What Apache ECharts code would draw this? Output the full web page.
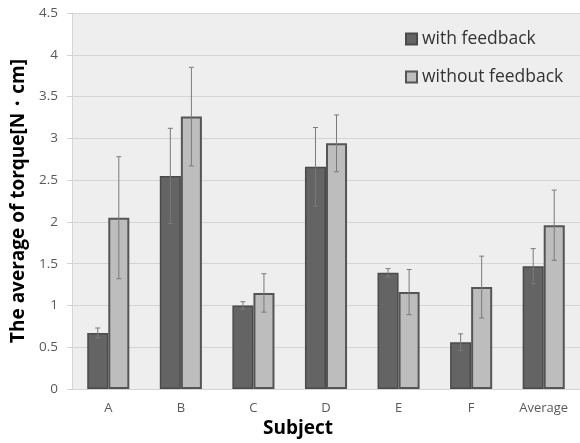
<!DOCTYPE html>
<html><head><meta charset="utf-8">
<script src="https://cdn.jsdelivr.net/npm/echarts@6/dist/echarts.min.js"></script>
<style>html,body{margin:0;padding:0;background:#fff}#c{width:580px;height:443px}</style>
</head><body><div id="c"></div>
<script>
const categories = ['A','B','C','D','E','F','Average'];
const withFeedback = [0.67, 2.55, 1.00, 2.66, 1.39, 0.56, 1.47];
const withFeedbackErr = [0.06, 0.57, 0.045, 0.47, 0.05, 0.10, 0.21];
const withoutFeedback = [2.05, 3.26, 1.15, 2.94, 1.16, 1.22, 1.96];
const withoutFeedbackErr = [0.73, 0.59, 0.23, 0.34, 0.27, 0.37, 0.42];
const yTicks = ['0','0.5','1','1.5','2','2.5','3','3.5','4','4.5'];

const GAP = 0.42;
function errSeries(vals, errs, side) {
  return {
    type: 'custom',
    silent: true,
    z: 10,
    data: vals.map((v, i) => [i, v, errs[i]]),
    renderItem: function (params, api) {
      const i = api.value(0), v = api.value(1), e = api.value(2);
      const band = api.size([1, 0])[0];
      const bw = band * (1 - GAP) / 2;
      const x = api.coord([i, 0])[0] + side * bw / 2;
      const yTop = api.coord([i, v + e])[1];
      const yBot = api.coord([i, v - e])[1];
      const cap = 2.5;
      const st = { stroke: '#7a7a7a', lineWidth: 1 };
      return {
        type: 'group',
        children: [
          { type: 'line', shape: { x1: x, y1: yTop, x2: x, y2: yBot }, style: st },
          { type: 'line', shape: { x1: x - cap, y1: yTop, x2: x + cap, y2: yTop }, style: st },
          { type: 'line', shape: { x1: x - cap, y1: yBot, x2: x + cap, y2: yBot }, style: st }
        ]
      };
    }
  };
}

const chart = echarts.init(document.getElementById('c'), null, { renderer: 'canvas' });
chart.setOption({
  animation: false,
  backgroundColor: '#ffffff',
  grid: { left: 72, right: -3, top: 13, bottom: 54, show: true, backgroundColor: '#eeeeee', borderWidth: 0 },
  legend: {
    orient: 'vertical',
    left: 400,
    top: 24,
    itemGap: 18,
    itemWidth: 11,
    itemHeight: 11,
    icon: 'rect',
    textStyle: { fontFamily: 'Open Sans', fontSize: 17.5, lineHeight: 20, color: '#333333' },
    data: ['with feedback', 'without feedback']
  },
  xAxis: {
    type: 'category',
    data: categories,
    axisLine: { show: false },
    axisTick: { show: false },
    axisLabel: { fontFamily: 'Open Sans', fontSize: 13, color: '#595959', margin: 13 },
    splitLine: { show: false }
  },
  yAxis: {
    type: 'value',
    min: 0, max: 4.5, interval: 0.5,
    axisLine: { show: true, lineStyle: { color: '#d4d4d4' } },
    axisTick: { show: true, length: 5, lineStyle: { color: '#d4d4d4' } },
    axisLabel: { fontFamily: 'Open Sans', fontSize: 13.5, color: '#595959', margin: 14,
      formatter: function (v) { return yTicks[Math.round(v / 0.5)]; } },
    splitLine: { lineStyle: { color: '#d4d4d4', width: 1 } },
    name: 'The average of torque[N・cm]',
    nameLocation: 'middle',
    nameGap: 44,
    nameTextStyle: { fontFamily: 'Open Sans', fontSize: 19, fontWeight: 'bold', color: '#000000' }
  },
  graphic: [{
    type: 'text',
    left: 263,
    top: 419,
    style: { text: 'Subject', font: 'bold 19px "Open Sans"', fill: '#000000' }
  }],
  series: [
    { name: 'with feedback', type: 'bar', data: withFeedback, barGap: '0%', barCategoryGap: (GAP * 100) + '%',
      itemStyle: { color: '#646464', borderColor: '#4a4a4a', borderWidth: 1.5 } },
    { name: 'without feedback', type: 'bar', data: withoutFeedback, barGap: '0%', barCategoryGap: (GAP * 100) + '%',
      itemStyle: { color: '#bdbdbd', borderColor: '#555555', borderWidth: 2 } },
    errSeries(withFeedback, withFeedbackErr, -1),
    errSeries(withoutFeedback, withoutFeedbackErr, 1)
  ]
});
</script></body></html>
